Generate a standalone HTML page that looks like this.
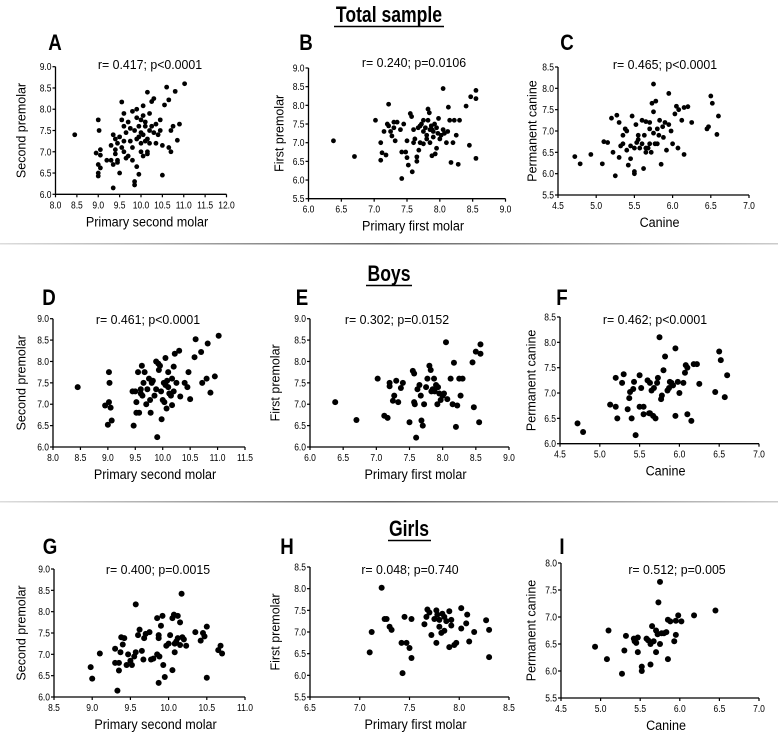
<!DOCTYPE html>
<html><head><meta charset="utf-8"><style>
html,body{margin:0;padding:0;background:#fff;}
svg{display:block;font-family:"Liberation Sans Narrow","Liberation Sans",sans-serif;}
</style></head><body>
<svg id="fig" width="778" height="736" viewBox="0 0 778 736">
<defs><linearGradient id="lg" x1="0" x2="1"><stop offset="0" stop-color="#ddd"/><stop offset="0.5" stop-color="#666"/><stop offset="1" stop-color="#ccc"/></linearGradient></defs>
<text transform="translate(389,22) scale(0.8,1)" text-anchor="middle" font-size="22" font-weight="bold">Total sample</text>
<line x1="334" y1="26.5" x2="444" y2="26.5" stroke="#000" stroke-width="1.6"/>
<rect x="0" y="243" width="778" height="1.5" fill="url(#lg)"/>
<text transform="translate(389,281) scale(0.8,1)" text-anchor="middle" font-size="22" font-weight="bold">Boys</text>
<line x1="366" y1="285.5" x2="412" y2="285.5" stroke="#000" stroke-width="1.6"/>
<rect x="0" y="501" width="778" height="1.5" fill="url(#lg)"/>
<text transform="translate(409,536) scale(0.8,1)" text-anchor="middle" font-size="22" font-weight="bold">Girls</text>
<line x1="388" y1="540.5" x2="431" y2="540.5" stroke="#000" stroke-width="1.6"/>
</svg>
<script>
// ---- data ----
const aX=[8.45,9.0,9.02,8.95,9.0,9.05,9.05,9.0,9.0,9.05,9.35,9.3,9.3,9.35,9.4,9.4,9.45,9.5,9.45,9.5,9.55,9.55,9.6,9.6,9.6,9.6,9.65,9.7,9.75,9.75,9.8,9.8,9.85,9.85,9.85,9.9,9.9,9.9,9.95,9.95,9.95,10.0,10.0,10.0,10.05,10.05,10.05,10.1,10.1,10.1,10.15,10.15,10.15,10.2,10.2,10.2,10.25,10.3,10.3,10.35,10.45,10.45,10.5,10.5,10.55,10.6,10.65,10.65,10.7,10.7,10.75,10.8,10.85,10.9,11.02,9.7,9.4,9.35,10.4,10.0,9.8,10.25,9.55,9.65,10.15,10.35,9.45,9.2,9.9,10.05];
const aY=[7.4,7.75,7.5,6.97,6.7,7.05,6.92,6.5,6.43,6.62,6.15,6.8,7.15,7.4,7.3,7.05,6.75,6.5,6.8,7.35,7.75,8.17,7.9,7.6,7.25,7.0,7.45,6.9,7.55,7.25,6.8,7.1,6.3,6.22,7.5,8.0,7.8,6.65,7.35,6.47,7.6,7.2,7.0,7.45,8.08,7.85,6.9,7.6,7.25,7.7,8.4,7.3,6.95,7.9,7.5,7.2,8.18,8.25,7.45,7.2,7.75,7.5,7.15,6.45,8.1,8.52,8.22,7.1,7.0,7.5,7.6,8.42,7.27,7.65,8.6,7.7,6.95,6.7,7.4,7.75,7.95,7.6,7.1,6.85,7.0,7.65,7.2,6.8,7.3,7.4];
const bX=[6.38,6.7,7.02,7.1,7.1,7.12,7.18,7.2,7.22,7.22,7.25,7.27,7.3,7.32,7.35,7.4,7.42,7.42,7.45,7.48,7.5,7.52,7.55,7.57,7.58,7.6,7.62,7.65,7.65,7.67,7.7,7.72,7.75,7.75,7.78,7.8,7.82,7.82,7.84,7.85,7.85,7.87,7.88,7.9,7.92,7.93,7.95,7.97,8.0,8.02,8.05,8.07,8.1,8.13,8.15,8.17,8.2,8.22,8.25,8.28,8.3,8.4,8.45,8.47,8.55,8.55,8.55,7.7,7.6,7.8,7.3,7.95,7.75,7.88,8.05,7.98,7.15,7.5,7.68,7.9,8.12];
const bY=[7.05,6.63,7.6,7.0,6.53,6.73,6.67,7.5,7.45,8.03,7.3,7.18,7.55,7.05,7.55,7.35,6.75,6.04,7.5,6.75,6.6,6.4,7.78,7.7,6.22,7.35,7.1,6.62,6.5,7.4,7.0,7.5,7.3,6.97,7.4,7.2,7.6,7.9,7.8,7.35,7.0,7.45,6.65,7.3,7.5,6.7,7.4,7.25,7.1,7.2,8.45,7.25,7.0,7.95,7.6,6.47,7.0,7.6,7.2,6.42,7.6,7.98,6.93,8.23,8.4,8.18,6.58,7.45,7.0,7.1,7.4,6.85,7.6,7.35,7.35,7.65,7.3,7.05,6.8,7.15,7.3];
const cX=[4.72,4.79,4.93,5.08,5.1,5.15,5.2,5.22,5.25,5.27,5.3,5.3,5.32,5.35,5.38,5.4,5.42,5.45,5.47,5.5,5.5,5.5,5.52,5.53,5.55,5.57,5.6,5.62,5.63,5.65,5.65,5.68,5.7,5.7,5.72,5.73,5.75,5.75,5.77,5.78,5.8,5.82,5.83,5.85,5.87,5.9,5.92,5.95,5.95,5.98,6.0,6.03,6.05,6.07,6.08,6.12,6.15,6.15,6.2,6.25,6.45,6.47,6.5,6.52,6.58,6.6,5.6,5.55,5.45,5.7,5.8,5.65,5.4,5.88,5.75,5.35];
const cY=[6.4,6.23,6.45,6.23,6.75,6.73,7.3,6.5,5.95,7.37,7.2,6.38,6.65,6.7,7.05,6.55,6.2,6.35,7.35,6.05,6.0,6.6,7.15,6.73,6.8,6.6,7.25,6.12,6.9,7.22,6.5,6.6,7.05,7.2,6.5,7.65,8.1,7.45,6.7,7.7,7.05,6.9,7.25,6.22,7.1,7.2,6.55,7.88,7.15,7.0,6.7,7.4,7.58,6.6,7.5,7.25,7.55,6.45,7.57,7.2,7.05,7.1,7.82,7.65,6.92,7.35,6.7,6.9,6.65,6.7,6.7,6.6,7.0,6.85,6.95,6.9];
const dX=[8.45,8.95,9.0,9.02,9.03,9.02,9.05,9.07,9.45,9.47,9.5,9.52,9.52,9.55,9.57,9.6,9.62,9.63,9.65,9.67,9.7,9.72,9.77,9.78,9.8,9.82,9.85,9.88,9.88,9.9,9.92,9.93,9.95,9.97,9.98,10.0,10.02,10.03,10.05,10.05,10.07,10.08,10.1,10.12,10.15,10.17,10.17,10.2,10.2,10.22,10.25,10.3,10.32,10.4,10.45,10.47,10.5,10.58,10.6,10.7,10.72,10.8,10.82,10.87,10.95,11.02,9.75,10.1,9.6];
const dY=[7.4,6.97,6.52,7.75,7.5,7.05,6.92,6.62,7.3,6.5,7.3,7.05,6.8,7.75,6.8,7.35,7.9,7.2,7.5,7.75,7.0,7.35,7.1,6.8,7.5,7.55,7.2,7.35,8.0,6.23,7.95,7.8,7.9,7.3,6.65,7.1,7.5,7.05,8.08,7.45,6.9,7.55,7.75,7.25,7.2,6.98,7.6,7.88,7.3,8.18,7.5,8.25,7.18,7.5,7.4,7.75,7.12,8.1,8.52,8.22,7.5,7.6,8.42,7.27,7.65,8.6,7.6,7.4,7.25];
const eX=[6.38,6.7,7.02,7.12,7.17,7.2,7.2,7.25,7.27,7.3,7.33,7.37,7.4,7.5,7.55,7.57,7.57,7.58,7.6,7.62,7.65,7.67,7.68,7.7,7.72,7.75,7.77,7.8,7.82,7.83,7.85,7.87,7.9,7.92,7.95,7.97,8.0,8.02,8.05,8.07,8.12,8.15,8.17,8.2,8.22,8.25,8.27,8.3,8.45,8.47,8.5,8.55,8.57,8.57,7.93,7.88];
const eY=[7.05,6.63,7.6,6.73,6.68,7.5,7.42,7.08,7.2,7.55,7.05,7.38,7.5,6.58,7.78,7.72,7.05,7.0,6.22,7.35,7.45,7.2,6.62,6.5,7.0,7.4,7.6,7.9,7.8,7.3,7.35,7.6,7.45,7.0,7.25,7.1,7.2,7.25,8.45,7.12,7.6,7.0,7.97,6.47,6.97,7.6,7.2,7.6,7.98,6.93,8.23,6.58,8.4,8.18,7.4,7.3];
const fX=[4.72,4.79,5.13,5.2,5.2,5.22,5.28,5.3,5.35,5.37,5.38,5.4,5.42,5.43,5.45,5.5,5.5,5.52,5.55,5.55,5.6,5.62,5.63,5.65,5.67,5.68,5.7,5.72,5.73,5.75,5.77,5.78,5.8,5.82,5.85,5.87,5.9,5.92,5.95,5.95,5.98,6.0,6.05,6.07,6.08,6.1,6.1,6.15,6.18,6.22,6.25,6.45,6.5,6.52,6.57,6.6,5.63,5.88];
const fY=[6.4,6.23,6.77,6.73,7.3,6.5,7.2,7.37,6.68,6.9,7.02,6.5,7.08,7.22,6.17,6.73,7.35,7.1,6.58,6.73,7.25,6.6,7.2,7.05,6.55,7.1,6.5,7.2,7.3,8.1,6.88,6.95,7.45,7.72,7.05,7.1,7.2,7.15,7.88,6.55,7.22,7.0,7.2,7.4,7.55,6.58,7.5,6.45,7.57,7.57,7.18,7.02,7.82,7.65,6.92,7.35,6.6,7.22];
const gX=[8.98,9.0,9.1,9.3,9.3,9.33,9.35,9.35,9.37,9.38,9.4,9.42,9.45,9.47,9.5,9.52,9.55,9.57,9.57,9.6,9.62,9.65,9.67,9.68,9.7,9.75,9.77,9.8,9.85,9.85,9.87,9.87,9.87,9.88,9.9,9.92,9.93,9.95,9.97,10.0,10.02,10.05,10.05,10.07,10.08,10.08,10.1,10.12,10.12,10.15,10.15,10.17,10.18,10.2,10.23,10.35,10.42,10.45,10.47,10.5,10.5,10.65,10.68,10.7];
const gY=[6.7,6.43,7.02,7.13,6.8,6.15,6.8,6.62,7.05,7.4,7.23,7.38,6.75,7.0,6.85,6.75,6.95,7.05,8.17,7.45,7.58,7.08,6.88,7.38,7.48,7.52,6.88,6.9,7.85,7.0,7.45,7.38,6.33,6.95,7.67,7.9,6.75,6.47,7.2,7.25,7.45,6.63,7.85,7.93,7.25,7.05,7.3,7.9,7.38,7.22,7.75,8.42,7.4,7.35,7.2,7.52,7.32,7.5,7.42,7.65,6.45,7.1,7.2,7.02];
const hX=[7.1,7.12,7.22,7.25,7.27,7.3,7.32,7.42,7.43,7.45,7.47,7.5,7.52,7.52,7.65,7.67,7.68,7.7,7.72,7.75,7.77,7.77,7.8,7.8,7.82,7.83,7.85,7.85,7.87,7.9,7.9,7.92,7.92,7.95,7.97,8.02,8.02,8.07,8.08,8.1,8.15,8.27,8.3,8.3,7.78];
const hY=[6.53,7.0,8.02,7.3,7.3,7.12,7.05,6.75,6.05,7.35,6.75,6.63,6.4,7.3,7.18,7.35,7.52,7.45,6.93,7.3,7.5,6.75,7.28,7.12,6.98,7.42,7.35,7.03,7.25,6.65,7.48,7.28,7.15,6.7,6.75,7.55,7.08,7.2,7.4,6.78,7.0,7.27,7.05,6.42,7.4];
const iX=[4.93,5.08,5.1,5.27,5.3,5.32,5.42,5.43,5.45,5.47,5.47,5.52,5.52,5.58,5.6,5.63,5.63,5.65,5.67,5.7,5.7,5.72,5.73,5.75,5.75,5.77,5.8,5.83,5.85,5.85,5.88,5.93,5.95,5.95,5.98,6.02,6.18,6.45];
const iY=[6.45,6.22,6.75,5.95,6.38,6.65,6.6,6.55,6.52,6.35,6.62,6.08,6.0,6.6,6.57,6.12,6.5,6.83,6.55,6.75,6.35,6.68,7.27,7.65,6.5,6.7,6.7,6.72,6.22,6.95,6.92,6.55,6.67,6.93,7.03,6.92,7.03,7.12];
const ticksX1=["8.0","8.5","9.0","9.5","10.0","10.5","11.0","11.5","12.0"];
const ticksX2=["6.0","6.5","7.0","7.5","8.0","8.5","9.0"];
const ticksX3=["4.5","5.0","5.5","6.0","6.5","7.0"];
const ticksXD=["8.0","8.5","9.0","9.5","10.0","10.5","11.0","11.5"];
const ticksXG=["8.5","9.0","9.5","10.0","10.5","11.0"];
const ticksXH=["6.5","7.0","7.5","8.0","8.5"];
const ticksY90=["6.0","6.5","7.0","7.5","8.0","8.5","9.0"];
const ticksY85=["5.5","6.0","6.5","7.0","7.5","8.0","8.5"];
const ticksY90b=["5.5","6.0","6.5","7.0","7.5","8.0","8.5","9.0"];
const ticksY85b=["6.0","6.5","7.0","7.5","8.0","8.5"];
const ticksY80=["5.5","6.0","6.5","7.0","7.5","8.0"];
const stats=["r= 0.417; p<0.0001","r= 0.240; p=0.0106","r= 0.465; p<0.0001","r= 0.461; p<0.0001","r= 0.302; p=0.0152","r= 0.462; p<0.0001","r= 0.400; p=0.0015","r= 0.048; p=0.740","r= 0.512; p=0.005"];

// ---- layout ----
const NS="http://www.w3.org/2000/svg";
const svg=document.getElementById('fig');
function mk(tag,attrs,parent){const e=document.createElementNS(NS,tag);for(const k in attrs)e.setAttribute(k,attrs[k]);(parent||svg).appendChild(e);return e;}
function ctext(x,y,str,size,anchor,parent,sc){const t=mk('text',{transform:`translate(${x},${y}) scale(${sc||1},1)`,'text-anchor':anchor,'font-size':size},parent);t.textContent=str;return t;}
const panels=[
 {id:'a',L:'A',lx:55,ly:50,X:aX,Y:aY,xt:ticksX1,yt:ticksY90,x0:55.5,x1:226.5,yt0:66.7,yb:194.3,xl:'Primary second molar',yl:'Second premolar',ylx:22,sx:150,sy:69,r:2.4,st:0},
 {id:'b',L:'B',lx:306,ly:50,X:bX,Y:bY,xt:ticksX2,yt:ticksY90b,x0:308.5,x1:505.5,yt0:68,yb:198.7,xl:'Primary first molar',yl:'First premolar',ylx:280,sx:414,sy:67,r:2.4,st:1},
 {id:'c',L:'C',lx:567,ly:50,X:cX,Y:cY,xt:ticksX3,yt:ticksY85,x0:558,x1:749,yt0:67,yb:195,xl:'Canine',yl:'Permanent canine',ylx:533,sx:665,sy:69,r:2.4,st:2},
 {id:'d',L:'D',lx:49,ly:305,X:dX,Y:dY,xt:ticksXD,yt:ticksY90,x0:53,x1:245,yt0:318.7,yb:447,xl:'Primary second molar',yl:'Second premolar',ylx:22,sx:148,sy:324,r:3,st:3},
 {id:'e',L:'E',lx:302,ly:305,X:eX,Y:eY,xt:ticksX2,yt:ticksY90,x0:310,x1:509,yt0:318.7,yb:447,xl:'Primary first molar',yl:'First premolar',ylx:276,sx:397,sy:324,r:3,st:4},
 {id:'f',L:'F',lx:562,ly:305,X:fX,Y:fY,xt:ticksX3,yt:ticksY85b,x0:560,x1:759,yt0:317,yb:443.7,xl:'Canine',yl:'Permanent canine',ylx:532,sx:655,sy:324,r:3,st:5},
 {id:'g',L:'G',lx:50,ly:554,X:gX,Y:gY,xt:ticksXG,yt:ticksY90,x0:54,x1:245,yt0:569,yb:697,xl:'Primary second molar',yl:'Second premolar',ylx:22,sx:158,sy:574,r:3,st:6},
 {id:'h',L:'H',lx:287,ly:554,X:hX,Y:hY,xt:ticksXH,yt:ticksY85,x0:310,x1:509,yt0:567,yb:697,xl:'Primary first molar',yl:'First premolar',ylx:276,sx:410,sy:574,r:3,st:7},
 {id:'i',L:'I',lx:562,ly:554,X:iX,Y:iY,xt:ticksX3,yt:ticksY80,x0:561,x1:759,yt0:563,yb:698,xl:'Canine',yl:'Permanent canine',ylx:532,sx:677,sy:574,r:3,st:8}
];
panels.forEach(p=>{
 const g=mk('g',{});
 
 
 const xmin=+p.xt[0],xmax=+p.xt[p.xt.length-1],ymin=+p.yt[0],ymax=+p.yt[p.yt.length-1];
 const sx=v=>p.x0+(v-xmin)/(xmax-xmin)*(p.x1-p.x0);
 const sy=v=>p.yb-(v-ymin)/(ymax-ymin)*(p.yb-p.yt0);
 const lab=ctext(p.lx,p.ly,p.L,22,'middle',g,0.85);lab.setAttribute('font-weight','bold');
 
 
 const st=ctext(p.sx,p.sy,stats[p.st],13,'middle',g,0.95);
 
 
 const ya=mk('line',{x1:p.x0,y1:p.yt0,x2:p.x0,y2:p.yb,stroke:'#000','stroke-width':1.3},g);
 
 
 const xa=mk('line',{x1:p.x0,y1:p.yb,x2:p.x1,y2:p.yb,stroke:'#000','stroke-width':1.3},g);
 
 
 p.yt.forEach(t=>{const y=sy(+t);mk('line',{x1:p.x0-3,y1:y,x2:p.x0,y2:y,stroke:'#000','stroke-width':1.2},g);
  const tx=ctext(p.x0-4,y+3.5,t,10,'end',g,0.85);
  
  });
 p.xt.forEach(t=>{const x=sx(+t);mk('line',{x1:x,y1:p.yb,x2:x,y2:p.yb+3,stroke:'#000','stroke-width':1.2},g);
  const tx=ctext(x,p.yb+14,t,10,'middle',g,0.85);
  
  });
 const xl=ctext((p.x0+p.x1)/2+6,p.yb+32,p.xl,14,'middle',g,0.9);
 
 
 const cy=(p.yt0+p.yb)/2;
 const yl=mk('text',{x:p.ylx,y:cy,'text-anchor':'middle','font-size':12.5,'font-family':'"Liberation Sans",sans-serif',transform:`rotate(-90 ${p.ylx} ${cy})`,'dominant-baseline':'middle'},g);yl.textContent=p.yl;
 
 
 p.X.forEach((v,i)=>{const c=mk('circle',{cx:sx(v),cy:sy(p.Y[i]),r:p.r,fill:'#000'},g);
  
  });
});
</script>
</body></html>
